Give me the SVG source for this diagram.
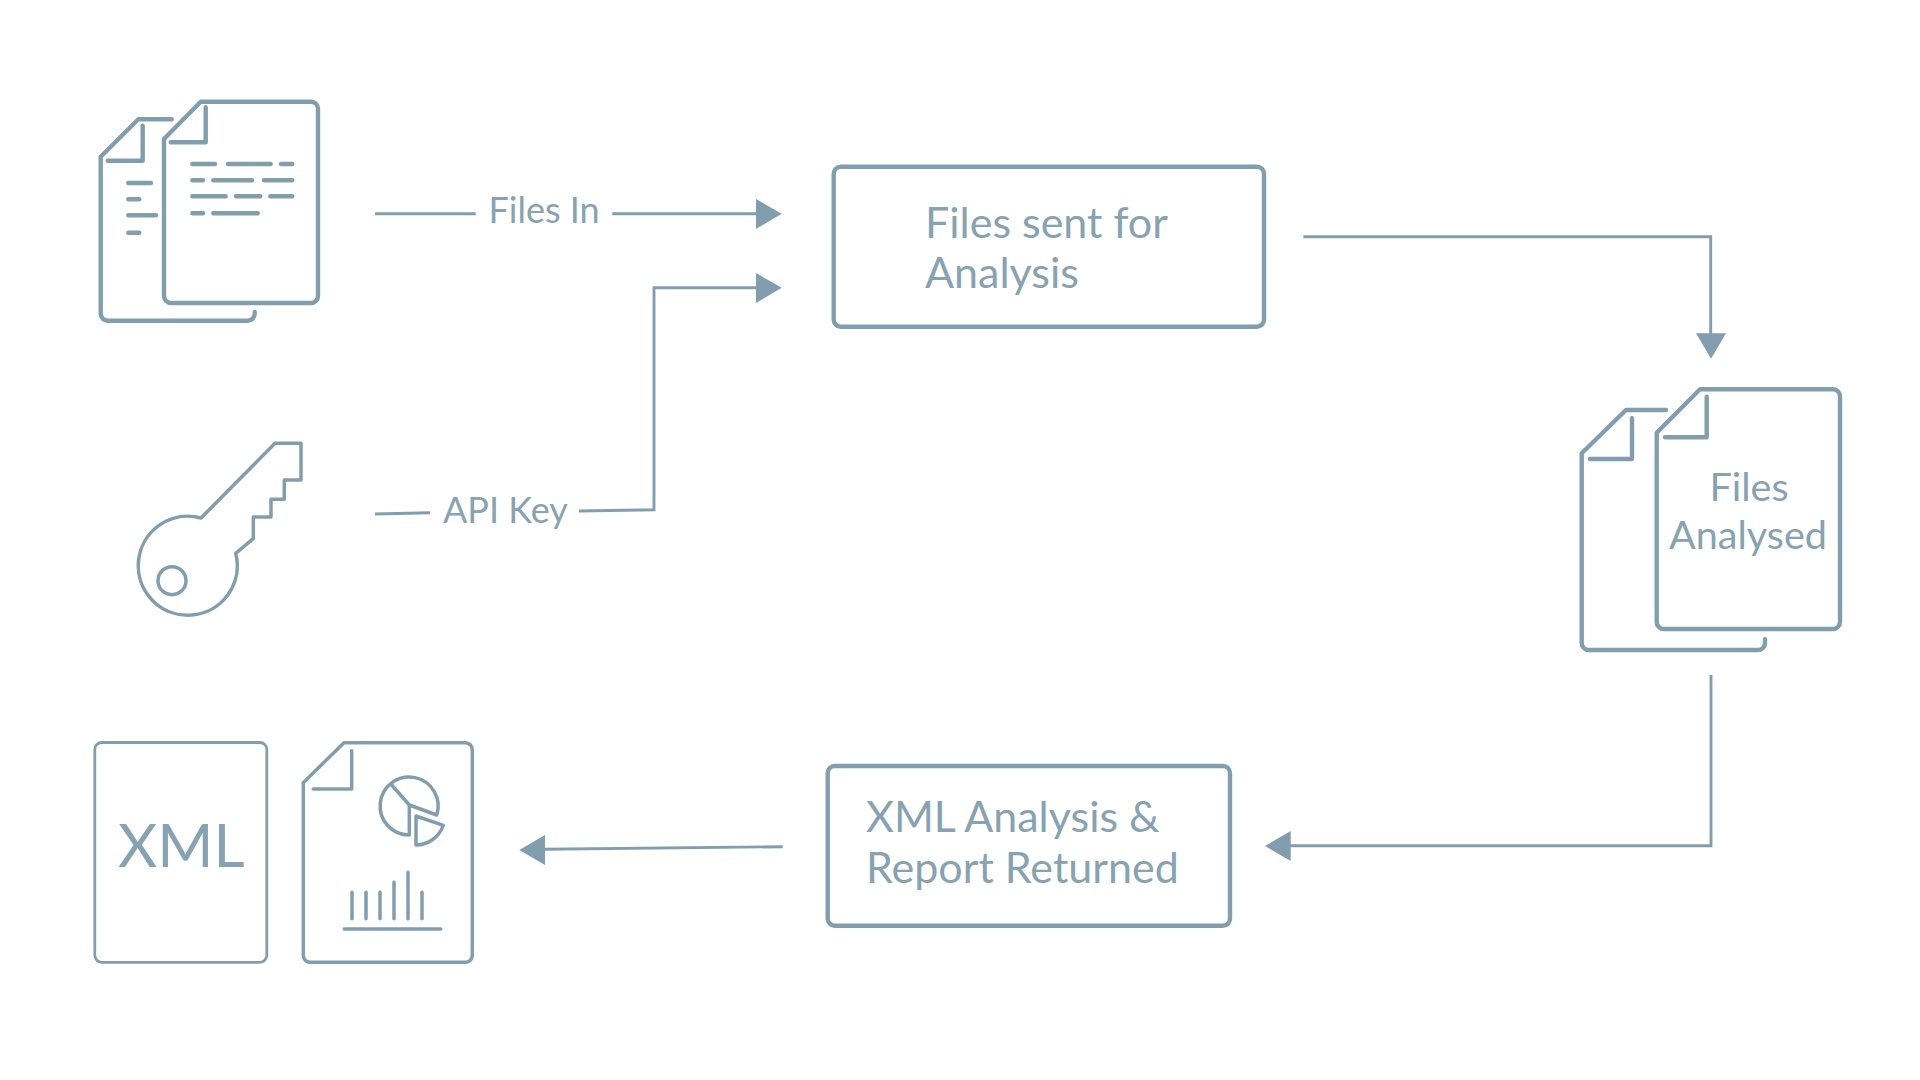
<svg xmlns="http://www.w3.org/2000/svg" width="1920" height="1080" viewBox="0 0 1920 1080">
<style>
text{font-family:Lato,"Liberation Sans",sans-serif;fill:#87a2b1}
.s{fill:none;stroke:#829eae;stroke-linecap:round;stroke-linejoin:round}
.w4{stroke-width:4.4}
.w3{stroke-width:3.5}
.w2{stroke-width:2.8}
.c{fill:none;stroke:#829eae;stroke-width:2.9;stroke-linejoin:miter}
.a{fill:#829eae}
.t42{font-size:43px}
.t38{font-size:39.6px}
.t34{font-size:36px}
</style>
<rect width="1920" height="1080" fill="#fff"/>
<g id="node-files-in">
<path class="s w4" d="M171.7 119.3H138.3L100.7 156.7V313.7a7 7 0 0 0 7 7H247.7a7 7 0 0 0 7-7V312"/>
<path class="s w4" d="M142.7 125.7V160.7H107.7"/>
<path class="s w4" d="M128.3 183H151M128.3 199.3H139.3M128.3 215.3H156M128.3 232.7H139.3"/>
<path class="s w4" d="M200.7 101.7H311a7 7 0 0 1 7 7V296a7 7 0 0 1-7 7H171a7 7 0 0 1-7-7V139Z"/>
<path class="s w4" d="M205.7 107.3V142.3H170.7"/>
<path class="s w4" d="M192.3 164H215M228 164H270.7M281 164H292.3M192.3 180.3H203M213.3 180.3H252M264 180.3H292.3M192.3 196.3H225.7M236 196.3H260.3M270.3 196.3H292.3M192.3 213.3H203M213.3 213.3H257.7"/>
</g>
<g id="node-api-key">
<path class="s w3" d="M275 443.3H301V480H284.3V499.3H271V517H253.3V538.7L235.7 553.3A49.5 49.5 0 1 1 201 518Z"/>
<circle class="s w3" cx="172" cy="580.7" r="14"/>
</g>
<g id="node-xml">
<rect class="s w2" x="94.8" y="742.5" width="172" height="219.8" rx="7"/>
<text x="118" y="866.9" font-size="60.5">XML</text>
</g>
<g id="node-report">
<path class="s w3" d="M344 742.7H465.3a7 7 0 0 1 7 7V955.3a7 7 0 0 1-7 7H310.3a7 7 0 0 1-7-7V782.7Z"/>
<path class="s w3" d="M351.7 750.7V789H313.3"/>
<path class="s w3" d="M391.7 785L409.3 805V835A29 29 0 1 1 436.7 815L409.3 805"/>
<path class="s w3" d="M416 816L443.3 825.3A29 29 0 0 1 416 845Z"/>
<path class="s w3" d="M352 892.3V918.7M366 892.3V918.7M380 892.3V918.7M394 882.3V918.7M408 872.3V918.7M422 892.3V918.7M344.3 929H440.7"/>
</g>
<g id="node-analysis">
<rect class="s w4" x="833.7" y="166.7" width="430.3" height="160" rx="7"/>
<text class="t42" x="925" y="237.5">Files sent for</text>
<text class="t42" x="925" y="288">Analysis</text>
</g>
<g id="node-analysed">
<path class="s w4" d="M1666 410H1626L1581.7 453.3V643a7 7 0 0 0 7 7H1758a7 7 0 0 0 7-7V639.3"/>
<path class="s w4" d="M1632 418.3V459H1590"/>
<path class="s w4" d="M1700 389.3H1833a7 7 0 0 1 7 7V622a7 7 0 0 1-7 7H1663.7a7 7 0 0 1-7-7V432.7Z"/>
<path class="s w4" d="M1706.7 396.7V437.3H1665"/>
<text class="t38" x="1749" y="500.6" text-anchor="middle">Files</text>
<text class="t38" x="1748" y="549" text-anchor="middle">Analysed</text>
</g>
<g id="node-report-returned">
<rect class="s w4" x="827.7" y="766" width="402.3" height="159.7" rx="7"/>
<text class="t42" x="866" y="831.9">XML Analysis &amp;</text>
<text class="t42" x="866" y="882.9">Report Returned</text>
</g>
<g id="connectors">
<path class="c" d="M375 213.7H475.7M612.3 213.7H757"/>
<path class="a" d="M756 199L781.7 213.7L756 229Z"/>
<path class="c" d="M375 514L430 512.7M579 511L654 509.7V287.7H757"/>
<path class="a" d="M756 273L781.7 287.7L756 303Z"/>
<path class="c" d="M1303.3 236.7H1710.7V334"/>
<path class="a" d="M1696 333.3H1726L1711 358.7Z"/>
<path class="c" d="M1711 675V845.7H1290"/>
<path class="a" d="M1290.7 831V861L1265 846Z"/>
<path class="c" d="M782.7 846.7L544 849.3"/>
<path class="a" d="M545 835V865L519.3 850Z"/>
<text class="t34" x="488.5" y="222.8">Files In</text>
<text class="t34" x="443" y="523">API Key</text>
</g>
</svg>
